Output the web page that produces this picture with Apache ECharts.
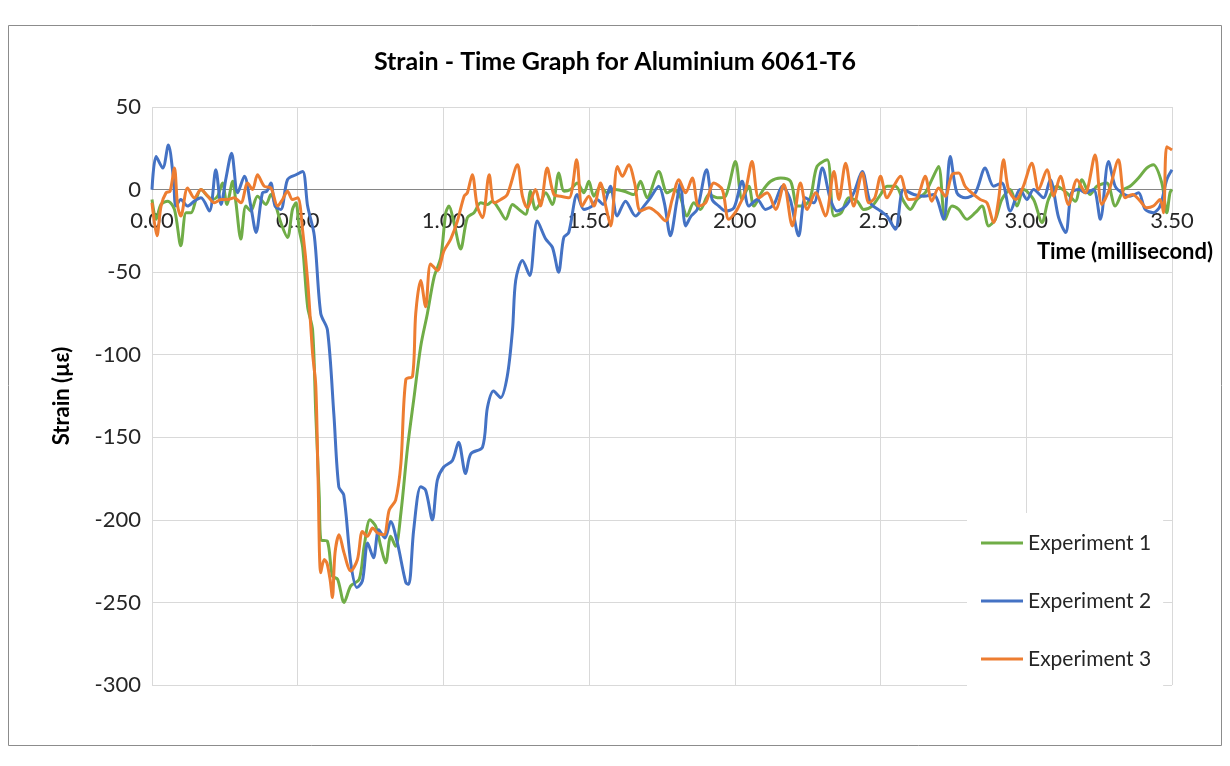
<!DOCTYPE html>
<html>
<head>
<meta charset="utf-8">
<script src="https://cdn.jsdelivr.net/npm/echarts@6/dist/echarts.min.js"></script>
<style>
  html, body { margin: 0; padding: 0; background: #fff; }
  #chart { width: 1230px; height: 766px; }
</style>
</head>
<body>
<div id="chart"></div>
<script>
// [time (ms), strain (µε)]
const exp1 = [
  [0, -6], [0.014, -18], [0.031, -9], [0.054, -7], [0.077, -12], [0.099, -34], [0.117, -14], [0.134, -14],
  [0.151, -6], [0.168, 0], [0.191, -4], [0.208, -6], [0.225, -4], [0.242, 4], [0.257, -9], [0.277, 5],
  [0.288, -8], [0.305, -30], [0.322, -10], [0.339, -13], [0.362, -4], [0.391, -9], [0.408, -3], [0.425, -10],
  [0.442, -20], [0.465, -29], [0.482, -12], [0.494, -8], [0.505, -24], [0.517, -35], [0.534, -71], [0.551, -85],
  [0.562, -136], [0.574, -186], [0.579, -212], [0.602, -213], [0.619, -234], [0.637, -236], [0.659, -250],
  [0.682, -240], [0.711, -236], [0.728, -216], [0.748, -200], [0.768, -204], [0.785, -216], [0.802, -226],
  [0.819, -210], [0.836, -216], [0.854, -196], [0.877, -156], [0.899, -126], [0.922, -95], [0.945, -75],
  [0.968, -53], [0.991, -41], [1.008, -14], [1.019, -10], [1.036, -20], [1.059, -36], [1.082, -17], [1.105, -14],
  [1.128, -8], [1.151, -9], [1.168, -7], [1.191, -12], [1.214, -18], [1.237, -9], [1.259, -12], [1.282, -15],
  [1.299, -1], [1.316, -12], [1.333, -8], [1.351, -2], [1.374, -9], [1.396, 10], [1.414, -1], [1.436, 0],
  [1.459, 4], [1.482, -2], [1.499, 5], [1.516, -4], [1.539, 2], [1.562, -2], [1.59, 0], [1.62, -1],
  [1.653, -3], [1.676, 5], [1.699, -5], [1.739, 11], [1.768, -2], [1.79, 0], [1.81, -3], [1.836, -16],
  [1.859, -8], [1.882, -12], [1.911, -3], [1.94, -5], [1.968, -4], [2.002, 17], [2.025, -6], [2.048, 2],
  [2.065, -10], [2.094, -1], [2.123, 5], [2.157, 7], [2.191, 5], [2.214, -10], [2.235, -10], [2.259, -5],
  [2.282, 14], [2.317, 18], [2.34, -16], [2.365, -14], [2.391, -5], [2.42, -7], [2.442, -12], [2.471, -10],
  [2.5, -3], [2.522, 2], [2.551, 2], [2.579, -7], [2.602, -12], [2.625, -6], [2.653, -2], [2.676, 6],
  [2.699, 14], [2.722, -18], [2.745, -10], [2.768, -12], [2.796, -18], [2.825, -14], [2.848, -10], [2.871, -22],
  [2.894, -18], [2.916, -6], [2.945, 0], [2.968, -10], [2.991, 0], [3.025, -6], [3.054, -20], [3.076, -6],
  [3.105, 2], [3.139, -2], [3.168, -7], [3.191, 6], [3.219, -3], [3.242, 2], [3.276, 4], [3.305, -10],
  [3.334, 0], [3.356, 2], [3.385, 7], [3.413, 13], [3.436, 15], [3.465, 4], [3.482, -14], [3.493, -2], [3.5, 0]
];

const exp2 = [
  [0, 0], [0.014, 20], [0.037, 13], [0.056, 27], [0.074, 6], [0.082, -10], [0.099, -6], [0.122, -10],
  [0.145, -7], [0.168, -5], [0.197, -13], [0.219, 12], [0.237, -9], [0.254, 7], [0.273, 22], [0.294, -2],
  [0.317, 8], [0.339, -10], [0.357, -26], [0.379, -2], [0.394, -1], [0.408, 4], [0.422, -10], [0.442, -12],
  [0.465, 6], [0.494, 9], [0.517, 11], [0.534, -10], [0.557, -28], [0.579, -75], [0.602, -85], [0.624, -136],
  [0.641, -180], [0.658, -185], [0.682, -226], [0.703, -241], [0.722, -237], [0.74, -214], [0.76, -223],
  [0.778, -206], [0.799, -211], [0.819, -201], [0.842, -214], [0.871, -238], [0.881, -239], [0.898, -206],
  [0.922, -180], [0.939, -182], [0.962, -200], [0.979, -176], [1.001, -168], [1.031, -164], [1.052, -153],
  [1.076, -172], [1.094, -160], [1.134, -156], [1.151, -132], [1.172, -122], [1.196, -126], [1.219, -113],
  [1.237, -85], [1.248, -55], [1.271, -43], [1.296, -52], [1.322, -19], [1.351, -30], [1.374, -35], [1.395, -50],
  [1.413, -29], [1.43, -26], [1.459, -3], [1.482, -12], [1.51, -10], [1.527, -6], [1.548, -9], [1.573, 2],
  [1.596, -16], [1.625, -7], [1.659, -16], [1.688, -10], [1.71, -5], [1.739, 2], [1.758, -8], [1.779, -28],
  [1.8, -8], [1.813, 4], [1.831, -22], [1.85, -16], [1.871, -12], [1.903, 12], [1.922, -6], [1.945, -10],
  [1.968, -13], [1.997, -11], [2.025, 5], [2.048, -10], [2.077, -6], [2.105, -12], [2.134, -9], [2.163, 2],
  [2.19, -6], [2.219, -28], [2.242, -5], [2.271, -8], [2.3, 13], [2.328, -6], [2.351, -13], [2.38, -10],
  [2.408, -2], [2.437, 11], [2.465, -8], [2.5, -13], [2.522, -16], [2.551, -24], [2.579, 0], [2.614, -3],
  [2.648, -4], [2.682, -3], [2.716, -18], [2.739, 20], [2.762, -2], [2.791, -5], [2.825, -2], [2.859, 13],
  [2.888, 2], [2.916, 4], [2.945, -13], [2.979, 0], [3.002, -6], [3.025, 0], [3.059, -5], [3.082, 6],
  [3.111, -17], [3.135, -26], [3.155, -2], [3.18, 0], [3.205, -2], [3.231, 0], [3.254, -18], [3.282, 17],
  [3.305, 2], [3.328, -2], [3.356, -4], [3.385, -2], [3.408, -12], [3.436, -14], [3.459, -10], [3.482, 6], [3.5, 12]
];

const exp3 = [
  [0, -8], [0.017, -28], [0.031, -10], [0.048, -2], [0.062, -1], [0.077, 13], [0.088, -10], [0.099, -16],
  [0.122, 1], [0.145, -5], [0.168, 0], [0.191, -4], [0.214, -8], [0.237, -6], [0.26, -6], [0.282, -5],
  [0.305, -8], [0.328, 4], [0.345, 0], [0.362, 9], [0.385, 2], [0.408, 1], [0.431, -10], [0.448, -6],
  [0.465, -1], [0.482, -6], [0.5, -5], [0.517, -25], [0.534, -55], [0.551, -99], [0.562, -119], [0.57, -176],
  [0.579, -232], [0.591, -224], [0.6, -226], [0.611, -236], [0.619, -247], [0.628, -220], [0.642, -209],
  [0.659, -220], [0.682, -231], [0.705, -224], [0.722, -207], [0.739, -210], [0.757, -205], [0.774, -208],
  [0.796, -209], [0.814, -194], [0.836, -188], [0.854, -166], [0.871, -115], [0.894, -113], [0.905, -75],
  [0.922, -55], [0.939, -71], [0.956, -45], [0.979, -49], [1.002, -37], [1.025, -30], [1.048, -19], [1.071, -4],
  [1.082, -2], [1.099, 9], [1.116, -10], [1.134, -17], [1.157, 9], [1.174, -8], [1.197, -6], [1.219, -3],
  [1.254, 15], [1.271, -4], [1.288, -11], [1.316, 0], [1.333, -10], [1.356, 13], [1.379, -3], [1.402, -4],
  [1.431, -5], [1.457, 18], [1.476, -10], [1.499, -4], [1.516, -10], [1.539, 4], [1.557, -10], [1.574, -22],
  [1.597, 14], [1.614, 8], [1.636, 15], [1.656, 4], [1.676, -13], [1.705, -11], [1.733, -14], [1.762, -19],
  [1.785, -6], [1.808, 6], [1.831, -2], [1.854, 7], [1.876, -10], [1.9, -8], [1.928, 4], [1.957, 0],
  [1.979, -18], [2.008, -12], [2.037, 0], [2.059, 17], [2.082, -5], [2.111, -2], [2.14, -12], [2.168, 3],
  [2.197, -22], [2.225, 4], [2.248, -12], [2.277, -2], [2.311, -16], [2.34, 11], [2.357, -6], [2.38, 16],
  [2.408, -10], [2.437, 10], [2.46, -8], [2.48, -5], [2.5, 8], [2.522, -5], [2.545, 2], [2.568, 8],
  [2.597, -6], [2.625, -5], [2.653, 8], [2.676, -7], [2.699, 1], [2.722, -4], [2.745, 9], [2.768, 10],
  [2.79, 2], [2.813, -2], [2.842, -6], [2.865, -8], [2.888, -20], [2.905, -6], [2.922, 18], [2.939, 0],
  [2.965, -6], [2.99, 2], [3.019, 16], [3.042, 0], [3.071, 12], [3.094, -4], [3.117, 8], [3.145, -9],
  [3.174, 6], [3.202, -2], [3.236, 21], [3.259, -9], [3.285, 0], [3.316, 18], [3.339, -5], [3.365, -3],
  [3.391, -7], [3.413, -11], [3.436, -10], [3.459, -6], [3.471, -14], [3.482, 26], [3.5, 24]
];

const seriesNames = ["Experiment 1", "Experiment 2", "Experiment 3"];
const seriesData = [exp1, exp2, exp3];
const colorList = ["#70AD47", "#4472C4", "#ED7D31"];

const font = "Lato, 'Open Sans', sans-serif";

var chart = echarts.init(document.getElementById("chart"));

var seriesList = seriesData.map((data, idx) => {
  return {
    type: "line",
    name: seriesNames[idx],
    data: data,
    smooth: 0.3,
    showSymbol: false,
    symbol: "none",
    lineStyle: { width: 3, color: colorList[idx] },
    itemStyle: { color: colorList[idx] },
  };
});

var option = {
  backgroundColor: "#fff",
  animation: false,
  textStyle: { fontFamily: font },
  title: {
    text: "Strain - Time Graph for Aluminium 6061-T6",
    left: "center",
    top: 49,
    padding: 0,
    textStyle: { fontFamily: font, fontSize: 25, fontWeight: "bold", color: "#000" },
  },
  graphic: [
    {
      type: "rect",
      shape: { x: 8.5, y: 25.5, width: 1213, height: 720 },
      style: { fill: "none", stroke: "#8c8c8c", lineWidth: 1 },
      silent: true,
      z: -1,
    },
  ],
  legend: {
    orient: "vertical",
    left: 967,
    top: 513,
    backgroundColor: "#fff",
    padding: [18, 12, 18, 14],
    icon: "rect",
    itemWidth: 42,
    itemHeight: 3,
    itemGap: 34,
    textStyle: { fontFamily: font, fontSize: 21, lineHeight: 24, color: "#262626" },
    data: seriesNames,
  },
  grid: {
    left: 152,
    right: 58,
    top: 107,
    bottom: 81,
  },
  xAxis: {
    type: "value",
    min: 0,
    max: 3.5,
    interval: 0.5,
    // axis sits on the zero line, labels follow it
    offset: -496,
    name: "Time (millisecond)",
    nameLocation: "end",
    nameGap: 41,
    nameTextStyle: {
      fontFamily: font,
      fontSize: 22,
      fontWeight: "bold",
      color: "#000",
      align: "right",
      verticalAlign: "top",
      padding: [52, 0, 0, 0],
    },
    axisLine: { show: true, onZero: false, lineStyle: { color: "#868686", width: 1 } },
    axisTick: { show: false },
    axisLabel: {
      margin: 21,
      fontSize: 22,
      color: "#262626",
      formatter: (v) => v.toFixed(2),
    },
    splitLine: { show: true, lineStyle: { color: "#d9d9d9", width: 1 } },
  },
  yAxis: {
    type: "value",
    min: -300,
    max: 50,
    interval: 50,
    name: "Strain (µε)",
    nameLocation: "middle",
    nameGap: 79,
    nameTextStyle: { fontFamily: font, fontSize: 22, fontWeight: "bold", color: "#000" },
    axisLine: { show: false },
    axisTick: { show: false },
    axisLabel: { margin: 11, fontSize: 22, color: "#262626" },
    splitLine: { show: true, lineStyle: { color: "#d9d9d9", width: 1 } },
  },
  series: seriesList,
};
option && chart.setOption(option);
</script>
</body>
</html>
